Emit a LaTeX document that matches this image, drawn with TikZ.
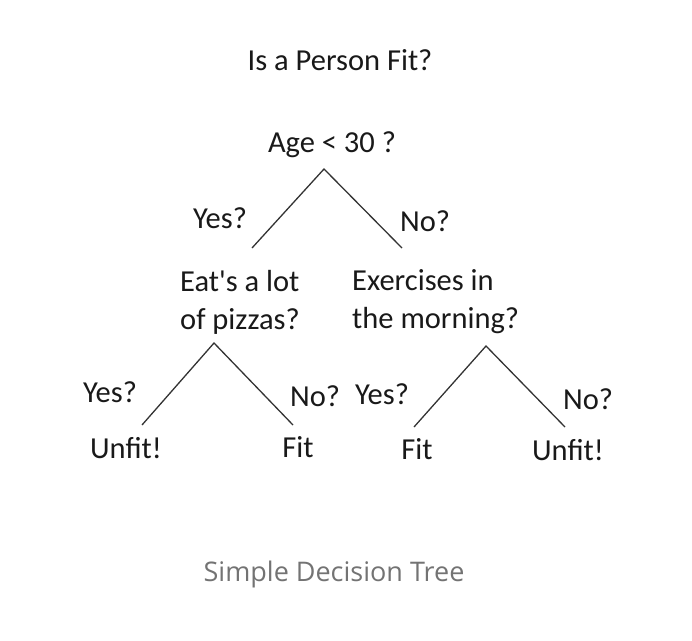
\documentclass[tikz,border=0pt]{standalone}
\usepackage{fontspec}
\setmainfont{Carlito}
\newfontfamily\capfont{Open Sans}
\begin{document}
\begin{tikzpicture}[x=1pt,y=-1pt,
  lbl/.style={inner sep=0pt,font=\fontsize{30.5}{38}\selectfont,text=black!90},
  qlbl/.style={lbl,align=left,anchor=west},
  branch/.style={draw=black!80,line width=1.3pt},
  caption/.style={inner sep=0pt,font=\capfont\fontsize{27}{32}\selectfont,text=black!55}]
\useasboundingbox (0,0) rectangle (692,640);
\node[lbl] (title) at (340,60) {Is a Person Fit?};
\node[lbl] (root) at (332,145) {Age < 30 ?};
\node[lbl] (ry) at (220,218) {Yes?};
\node[lbl] (rn) at (425,221) {No?};
\node[qlbl] (pizza) at (180,302) {Eat\textquotesingle s a lot\\of pizzas?};
\node[qlbl] (exer) at (352,302) {Exercises in\\the morning?};
\node[lbl] (ly) at (110,392) {Yes?};
\node[lbl] (ln) at (315,396) {No?};
\node[lbl] (xy) at (382,394) {Yes?};
\node[lbl] (xn) at (588,399) {No?};
\node[lbl] (l1) at (126,448) {Unfit!};
\node[lbl] (l2) at (298,447) {Fit};
\node[lbl] (l3) at (417,449) {Fit};
\node[lbl] (l4) at (568,450) {Unfit!};
\node[caption] (cap) at (334,574) {Simple Decision Tree};
% branch points
\coordinate (a0) at (324,169);
\coordinate (a1) at (252,248);
\coordinate (a2) at (402,248);
\coordinate (b0) at (214,343);
\coordinate (b1) at (142,425);
\coordinate (b2) at (293,425);
\coordinate (c0) at (486,346);
\coordinate (c1) at (414,427);
\coordinate (c2) at (565,427);
\draw[branch] (a1) -- (a0) -- (a2);
\draw[branch] (b1) -- (b0) -- (b2);
\draw[branch] (c1) -- (c0) -- (c2);
\end{tikzpicture}
\end{document}
